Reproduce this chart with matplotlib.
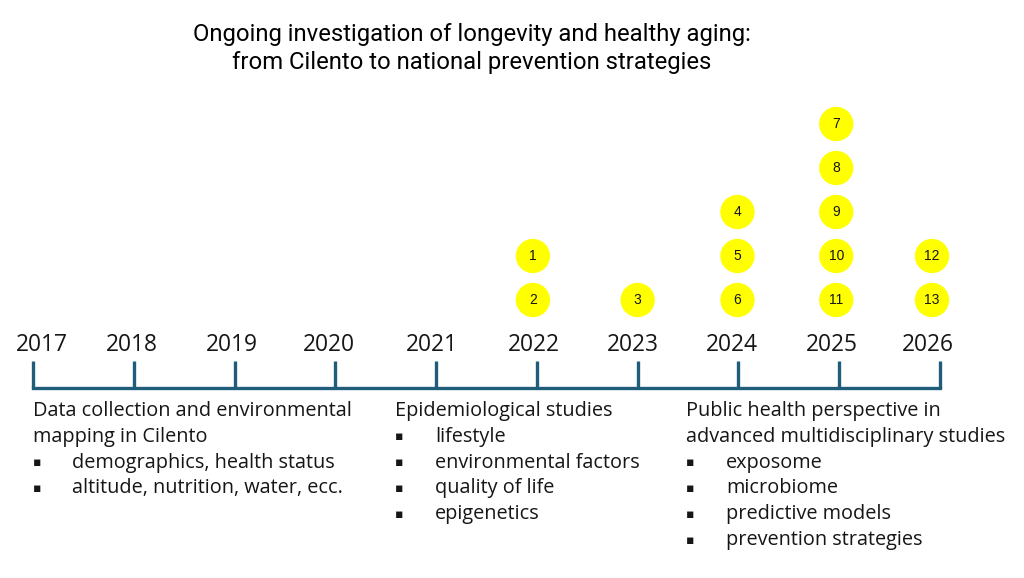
import numpy as np
import matplotlib
matplotlib.use("Agg")
import matplotlib.pyplot as plt

# --- data ---
years = [2017, 2018, 2019, 2020, 2021, 2022, 2023, 2024, 2025, 2026]
ref_years = [2022, 2023, 2024, 2025, 2026]
ref_counts = [2, 1, 3, 5, 2]

title_lines = ["Ongoing investigation of longevity and healthy aging:",
               "from Cilento to national prevention strategies"]

phase_titles = [
    ["Data collection and environmental", "mapping in Cilento"],
    ["Epidemiological studies"],
    ["Public health perspective in", "advanced multidisciplinary studies"],
]
phase_items = [
    ["demographics, health status", "altitude, nutrition, water, ecc."],
    ["lifestyle", "environmental factors", "quality of life", "epigenetics"],
    ["exposome", "microbiome", "predictive models", "prevention strategies"],
]

# --- layout helpers (pixel -> data) ---
W, H = 1024, 578
x_left_px, x_right_px = 33, 940
ppy = (x_right_px - x_left_px) / (years[-1] - years[0])   # pixels per year
lvl0_px, lvl_step = 300, 44

# small hand-placed nudges (pixels) seen in the original slide
label_dx = [9, -2, -3, -6, -4, -3, -5, -7, -7, -12]
bubble_dx = [-4, 0, -1, -3, -8]


def px_x(px):
    return years[0] + (px - x_left_px) / ppy


def px_y(py):
    return (lvl0_px - py) / lvl_step


line_col = "#1f5d7b"
text_col = "#161616"
body_font = ["Open Sans", "DejaVu Sans"]

fig = plt.figure(figsize=(W / 100, H / 100), dpi=100)
ax = fig.add_axes([0, 0, 1, 1])
ax.set_xlim(px_x(0), px_x(W))
ax.set_ylim(px_y(H), px_y(0))
ax.axis("off")

# title
for i, t in enumerate(title_lines):
    ax.text(px_x(472), px_y(35 + 28 * i), t, ha="center", va="center",
            fontsize=17.2, family=["Roboto", "DejaVu Sans"], color="black")

# timeline
y_line = px_y(388)
y_tick = px_y(361)
ax.hlines(y_line, years[0], years[-1], color=line_col, lw=2.4, capstyle="projecting")
ax.vlines(years, y_line, y_tick, color=line_col, lw=2.4)
for yr, dx in zip(years, label_dx):
    ax.text(yr + dx / ppy, px_y(345), str(yr), ha="center", va="center", fontsize=16.4,
            family=body_font, color=text_col)

# reference bubbles, numbered top-down within each year
n = 1
for yr, c, dx in zip(ref_years, ref_counts, bubble_dx):
    xb = yr + dx / ppy
    for k in range(c):
        lvl = c - 1 - k
        ax.scatter([xb], [lvl], s=610, color="#ffff00", edgecolors="none", zorder=3)
        ax.text(xb, lvl, str(n), ha="center", va="center", fontsize=10,
                family=["Liberation Sans", "DejaVu Sans"], color=text_col, zorder=4)
        n += 1

# phase descriptions
head_x = [33, 395, 686]
bullet_x = [37, 399, 690]
item_x = [72, 435, 726]
row0, row_step = 411, 25.8
for p in range(3):
    row = 0
    for t in phase_titles[p]:
        ax.text(px_x(head_x[p]), px_y(row0 + row * row_step), t, ha="left", va="center",
                fontsize=14.3, family=body_font, color=text_col)
        row += 1
    for t in phase_items[p]:
        yy = px_y(row0 + row * row_step)
        ax.text(px_x(bullet_x[p]), yy, "\u25aa", ha="center", va="center",
                fontsize=9, family=["DejaVu Sans"], color=text_col)
        ax.text(px_x(item_x[p]), yy, t, ha="left", va="center",
                fontsize=14.3, family=body_font, color=text_col)
        row += 1

fig.savefig("out.png", dpi=100, facecolor="white")
